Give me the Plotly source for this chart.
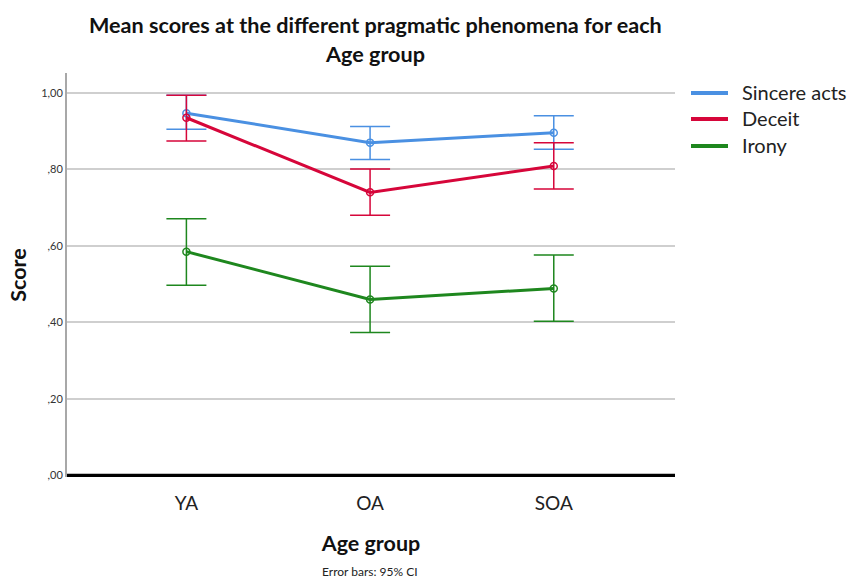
import plotly.graph_objects as go

groups = ["YA", "OA", "SOA"]
series_names = ["Sincere acts", "Deceit", "Irony"]
means = {
    "Sincere acts": [0.947, 0.870, 0.896],
    "Deceit": [0.935, 0.740, 0.809],
    "Irony": [0.585, 0.460, 0.489],
}
upper = {
    "Sincere acts": [0.994, 0.912, 0.940],
    "Deceit": [0.994, 0.801, 0.870],
    "Irony": [0.671, 0.547, 0.576],
}
lower = {
    "Sincere acts": [0.905, 0.826, 0.853],
    "Deceit": [0.874, 0.680, 0.749],
    "Irony": [0.497, 0.374, 0.403],
}
colors = {"Sincere acts": "#4A90E2", "Deceit": "#D6063A", "Irony": "#1E871E"}
tick_vals = [0.0, 0.2, 0.4, 0.6, 0.8, 1.0]
tick_text = [",00", ",20", ",40", ",60", ",80", "1,00"]
title_lines = ["Mean scores at the different pragmatic phenomena for each", "Age group"]

PL, PR, PT, PB = 67, 675, 73, 477
PW, PH = PR - PL, PB - PT

def px_x(x):
    return (x - PL) / PW

def px_y(y):
    return (PB - y) / PH

fig = go.Figure()
for name in series_names:
    m = means[name]
    up = [u - v for u, v in zip(upper[name], m)]
    dn = [v - l for l, v in zip(lower[name], m)]
    fig.add_trace(go.Scatter(
        x=[0, 1, 2], y=m, name=name, mode="lines+markers", showlegend=False,
        line=dict(color=colors[name], width=3),
        marker=dict(symbol="circle-open", size=7, color=colors[name], line=dict(width=1.5)),
        error_y=dict(type="data", symmetric=False, array=up, arrayminus=dn,
                     color=colors[name], thickness=1.5, width=20),
    ))

fig.update_layout(
    width=853, height=579,
    margin=dict(l=PL, r=853 - PR, t=PT, b=579 - PB),
    paper_bgcolor="white", plot_bgcolor="white",
    font=dict(family="Lato, Open Sans, sans-serif", color="#222"),
    showlegend=False,
    xaxis=dict(range=[-0.65, 2.66], tickvals=[0, 1, 2], ticktext=groups,
               showgrid=False, zeroline=False, showline=False, ticks="",
               tickfont=dict(size=19, color="#222"), automargin=False,
               ticklabelstandoff=13,
               title=dict(text="<b>Age group</b>", font=dict(size=21.5, color="#111"), standoff=22)),
    yaxis=dict(range=[-0.004, 1.052], tickvals=tick_vals, ticktext=tick_text,
               showgrid=True, gridcolor="#CFCFCF", gridwidth=1.5, zeroline=False,
               showline=True, linecolor="#A8A8A8", linewidth=2, ticks="",
               tickfont=dict(size=11, color="#333"), automargin=False,
               title=dict(text="<b>Score</b>", font=dict(size=21.5, color="#111"), standoff=9)),
)
# legend (line swatch + label) drawn at the right of the plot
for name, py in zip(series_names, [93, 119, 146]):
    fig.add_shape(type="line", xref="paper", yref="paper",
                  x0=px_x(691), x1=px_x(728), y0=px_y(py), y1=px_y(py),
                  line=dict(color=colors[name], width=4))
    fig.add_annotation(text=name, xref="paper", yref="paper", x=px_x(740), y=px_y(py - 1),
                       xanchor="left", yanchor="middle", showarrow=False,
                       font=dict(size=20, color="#222"))
for line_text, py in zip(title_lines, [25, 54]):
    fig.add_annotation(text="<b>" + line_text + "</b>", xref="paper", yref="paper",
                       x=px_x(375), y=px_y(py), showarrow=False, yanchor="middle",
                       font=dict(size=21.6, color="#111"))
# thick black baseline at 0
fig.add_shape(type="line", xref="paper", yref="y", x0=0, x1=1, y0=0, y1=0,
              line=dict(color="black", width=3.5))
fig.add_annotation(text="Error bars: 95% CI", xref="paper", yref="paper",
                   x=px_x(370), y=px_y(571), showarrow=False,
                   font=dict(size=12, color="#222"), yanchor="middle")

fig.write_html("out.html", config={"displayModeBar": False},
               post_script="document.body.style.margin='0';")
